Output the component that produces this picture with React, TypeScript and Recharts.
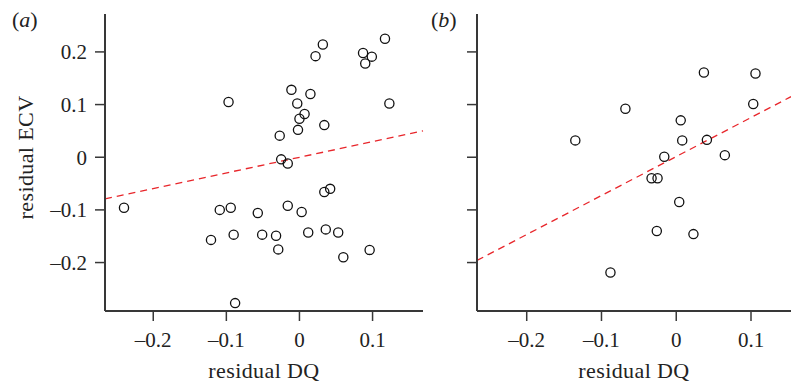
import { ScatterChart, Scatter, XAxis, YAxis, ReferenceLine } from "recharts";

// panel (a): residual DQ vs residual ECV
const pointsA = [
	{ x: -0.097, y: 0.105 },
	{ x: -0.027, y: 0.041 },
	{ x: -0.025, y: -0.004 },
	{ x: -0.016, y: -0.012 },
	{ x: -0.011, y: 0.128 },
	{ x: -0.003, y: 0.102 },
	{ x: -0.002, y: 0.052 },
	{ x: 0.0, y: 0.073 },
	{ x: 0.007, y: 0.082 },
	{ x: 0.015, y: 0.12 },
	{ x: 0.022, y: 0.192 },
	{ x: 0.032, y: 0.214 },
	{ x: 0.034, y: 0.061 },
	{ x: 0.034, y: -0.066 },
	{ x: 0.042, y: -0.06 },
	{ x: 0.087, y: 0.198 },
	{ x: 0.09, y: 0.178 },
	{ x: 0.099, y: 0.191 },
	{ x: 0.117, y: 0.225 },
	{ x: 0.123, y: 0.102 },
	{ x: -0.24, y: -0.096 },
	{ x: -0.109, y: -0.1 },
	{ x: -0.094, y: -0.096 },
	{ x: -0.121, y: -0.157 },
	{ x: -0.09, y: -0.147 },
	{ x: -0.057, y: -0.106 },
	{ x: -0.051, y: -0.147 },
	{ x: -0.032, y: -0.149 },
	{ x: -0.029, y: -0.175 },
	{ x: -0.016, y: -0.092 },
	{ x: 0.003, y: -0.104 },
	{ x: 0.012, y: -0.143 },
	{ x: 0.036, y: -0.137 },
	{ x: 0.053, y: -0.143 },
	{ x: 0.06, y: -0.19 },
	{ x: 0.096, y: -0.176 },
	{ x: -0.088, y: -0.277 },
];

// panel (b)
const pointsB = [
	{ x: -0.135, y: 0.032 },
	{ x: -0.068, y: 0.092 },
	{ x: 0.006, y: 0.07 },
	{ x: 0.008, y: 0.032 },
	{ x: 0.037, y: 0.161 },
	{ x: 0.041, y: 0.033 },
	{ x: 0.065, y: 0.004 },
	{ x: 0.103, y: 0.101 },
	{ x: 0.106, y: 0.159 },
	{ x: -0.016, y: 0.001 },
	{ x: -0.033, y: -0.04 },
	{ x: -0.025, y: -0.04 },
	{ x: 0.004, y: -0.085 },
	{ x: -0.026, y: -0.14 },
	{ x: 0.023, y: -0.146 },
	{ x: -0.088, y: -0.219 },
];

// fitted regression lines (end points)
const fitA = [
	{ x: -0.266, y: -0.079 },
	{ x: 0.169, y: 0.05 },
];
const fitB = [
	{ x: -0.2665, y: -0.196 },
	{ x: 0.1535, y: 0.115 },
];

const xTicks = [-0.2, -0.1, 0, 0.1];
const yTicks = [-0.2, -0.1, 0, 0.1, 0.2];
const yDomain = [-0.292, 0.272];
const xDomainA = [-0.266, 0.169];
const xDomainB = [-0.2665, 0.1535];

const FONT = "'Liberation Serif', 'DejaVu Serif', serif";
const AXIS = "#383838";
const TEXT = "#222";

const fmt = (v: number) => (v === 0 ? "0" : v < 0 ? "\u2013" + Math.abs(v) : String(v));

const ring = (props: any) => (
	<circle cx={props.cx} cy={props.cy} r={4.6} fill="none" stroke="#111" strokeWidth={1.3} />
);

function Panel({
	points,
	fit,
	xDomain,
	tag,
	left,
	width,
	yWidth,
	showYLabels,
}: {
	points: { x: number; y: number }[];
	fit: { x: number; y: number }[];
	xDomain: number[];
	tag: string;
	left: number;
	width: number;
	yWidth: number;
	showYLabels: boolean;
}) {
	const tickStyle = { fontFamily: FONT, fontSize: 21, fill: TEXT };
	return (
		<div style={{ position: "absolute", left, top: 0 }}>
			<ScatterChart
				width={width}
				height={388}
				margin={{ top: 14, right: showYLabels ? 7 : 0, bottom: 0, left: 0 }}
			>
				<XAxis
					type="number"
					dataKey="x"
					domain={xDomain}
					ticks={xTicks}
					allowDataOverflow
					tickFormatter={fmt}
					height={77}
					tickSize={10}
					tickMargin={11}
					axisLine={{ stroke: AXIS, strokeWidth: 2 }}
					tickLine={{ stroke: AXIS, strokeWidth: 1.5 }}
					tick={tickStyle}
					label={{
						value: "residual DQ",
						position: "insideBottom",
						offset: 10,
						style: { fontFamily: FONT, fontSize: 22, fill: TEXT, letterSpacing: 0.4 },
					}}
				/>
				<YAxis
					type="number"
					dataKey="y"
					domain={yDomain}
					ticks={yTicks}
					allowDataOverflow
					tickFormatter={showYLabels ? fmt : () => ""}
					width={yWidth}
					tickSize={10}
					tickMargin={8}
					axisLine={{ stroke: AXIS, strokeWidth: 2 }}
					tickLine={{ stroke: AXIS, strokeWidth: 1.5 }}
					tick={tickStyle}
					label={{
						content: (p: any) => {
							const vb = p.viewBox || { y: 14, height: 297 };
							const cy = vb.y + vb.height / 2 - 5;
							return (
								<g style={{ fontFamily: FONT, fontSize: 22, fill: TEXT }}>
									<text x={showYLabels ? 12 : 31} y={27} fill={TEXT}>
										(<tspan fontStyle="italic">{tag}</tspan>)
									</text>
									{showYLabels && (
										<text
											x={33}
											y={cy}
											textAnchor="middle"
											letterSpacing={0.4}
											transform={`rotate(-90 33 ${cy})`}
											fill={TEXT}
										>
											residual ECV
										</text>
									)}
								</g>
							);
						},
					}}
				/>
				<ReferenceLine
					segment={fit}
					ifOverflow="visible"
					stroke="#e8262b"
					strokeWidth={1.3}
					strokeDasharray="7 5"
				/>
				<Scatter data={points} shape={ring} isAnimationActive={false} />
			</ScatterChart>
		</div>
	);
}

export default function App() {
	return (
		<div style={{ position: "absolute", left: 0, top: 0, width: 791, height: 388, background: "#fff" }}>
			<Panel
				points={pointsA}
				fit={fitA}
				xDomain={xDomainA}
				tag="a"
				left={0}
				width={430}
				yWidth={105}
				showYLabels
			/>
			<Panel
				points={pointsB}
				fit={fitB}
				xDomain={xDomainB}
				tag="b"
				left={400}
				width={391}
				yWidth={77}
				showYLabels={false}
			/>
		</div>
	);
}
